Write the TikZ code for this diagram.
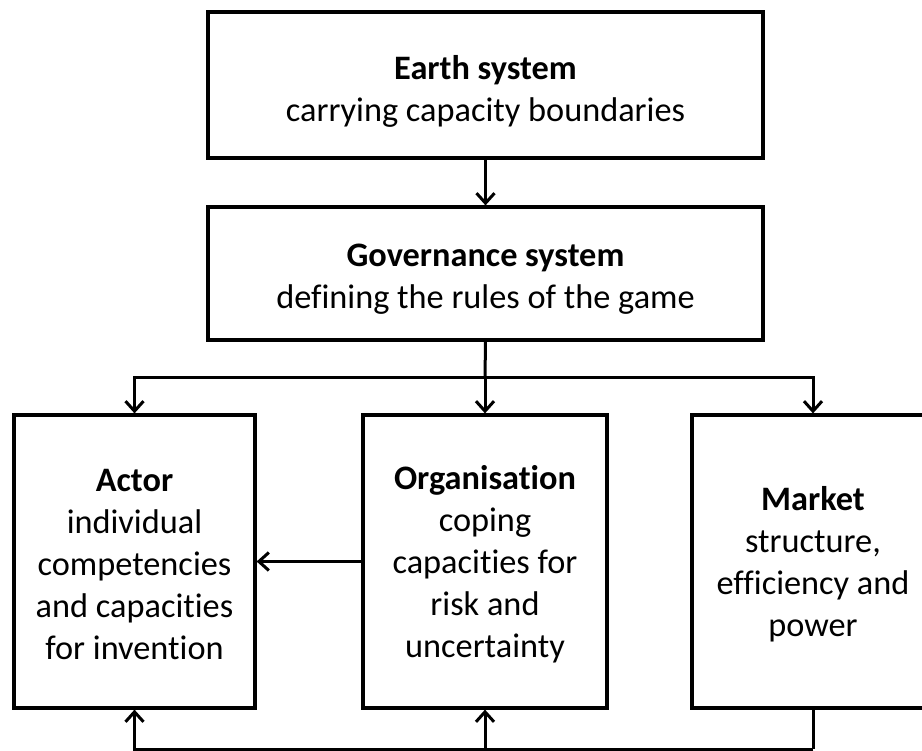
\documentclass[tikz,border=0pt]{standalone}
\usepackage{fontspec}
\setmainfont[Ligatures=NoCommon]{Carlito}
\usetikzlibrary{arrows.meta}
\begin{document}
\begin{tikzpicture}[x=1pt,y=-1pt,
  box/.style={draw, line width=3.2pt, rectangle, inner sep=0pt},
  txt/.style={inner sep=0pt, align=center, font=\fontsize{34.3}{42}\selectfont},
  conn/.style={line width=3pt},
  arr/.style={conn, -{Straight Barb[length=10pt,width=18pt,line width=3pt]}}]
\useasboundingbox (0,0) rectangle (922,751);
\node[box, minimum width=555pt, minimum height=146pt] (earth) at (485.5,85) {};
\node[txt] (earthT) at (485.5,91) {\textbf{Earth system}\\carrying capacity boundaries};
\node[box, minimum width=555pt, minimum height=133pt] (gov) at (485.5,273.5) {};
\node[txt] (govT) at (485.5,279.5) {\textbf{Governance system}\\defining the rules of the game};
\node[box, minimum width=241pt, minimum height=293pt] (actor) at (134.5,561.5) {};
\node[txt] (actorT) at (134.5,564.5) {\textbf{Actor}\\individual\\competencies\\and capacities\\for invention};
\node[box, minimum width=244pt, minimum height=293pt] (org) at (485,561.5) {};
\node[txt] (orgT) at (485,564.5) {\textbf{Organisation}\\coping\\capacities for\\risk and\\uncertainty};
\node[box, minimum width=242pt, minimum height=293pt] (mkt) at (813,561.5) {};
\node[txt] (mktT) at (813,564) {\textbf{Market}\\structure,\\efficiency and\\power};
\coordinate (j) at (485,378);
\coordinate (b) at (813,749);
\draw[arr] (earth.south) -- (gov.north);
\draw[conn] (gov.south) -- (j);
\draw[arr] (j) -| (actor.north);
\draw[arr] (j) -- (org.north);
\draw[arr] (j) -| (mkt.north);
\draw[arr] (org.west) -- (actor.east);
\draw[conn] (mkt.south) -- (b);
\draw[arr] (b) -| (actor.south);
\draw[arr] (b) -| (org.south);
\end{tikzpicture}
\end{document}
